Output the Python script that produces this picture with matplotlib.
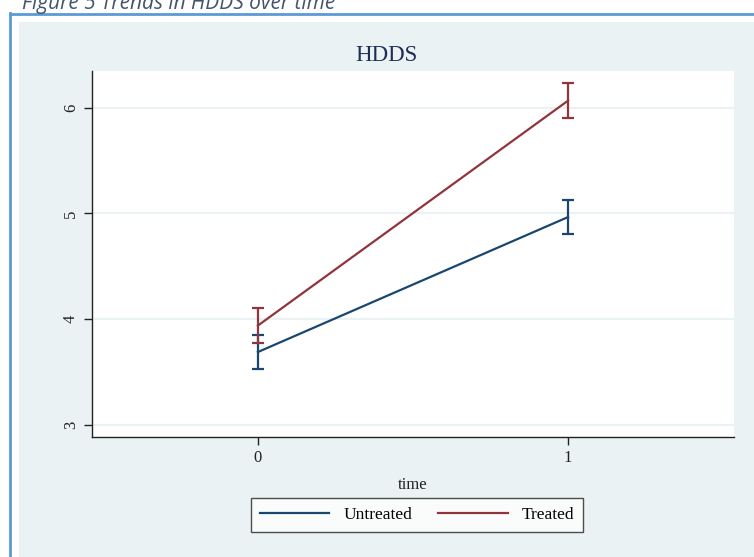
import numpy as np
import matplotlib.pyplot as plt
from matplotlib.patches import Rectangle
from matplotlib.lines import Line2D

# HDDS means with 95% CI, by time
time = [0, 1]
untreated = [3.69, 4.965]
untreated_lo = [3.525, 4.805]
untreated_hi = [3.85, 5.13]
treated = [3.94, 6.065]
treated_lo = [3.775, 5.905]
treated_hi = [4.105, 6.235]
yticks = [3, 4, 5, 6]
xticks = [0, 1]

W, H = 754, 557
fig = plt.figure(figsize=(W/100, H/100), dpi=100, facecolor='white')

# outer frame: Stata background + blue document border
fig.patches.append(Rectangle((19/W, 0), 1, 1 - 22/H, transform=fig.transFigure,
                             facecolor='#eaf2f3', edgecolor='none', zorder=-5))
fig.add_artist(Line2D([10/W, 10/W], [0, 1 - 13/H], transform=fig.transFigure,
                      color='#5b9bd5', lw=2))
fig.add_artist(Line2D([10/W, 1], [1 - 13.5/H, 1 - 13.5/H], transform=fig.transFigure,
                      color='#5b9bd5', lw=2))
fig.text(22/W, 1 - 9/H, 'Figure 5 Trends in HDDS over time', family='Open Sans',
         style='italic', fontsize=15, color='#44546a', va='baseline', ha='left')

ax = fig.add_axes([92/W, 1 - 437/H, (734-92)/W, (437-71)/H])
ax.set_facecolor('white')

navy = '#1a476f'
maroon = '#90353b'
ax.errorbar(time, untreated,
            yerr=[np.subtract(untreated, untreated_lo), np.subtract(untreated_hi, untreated)],
            color=navy, lw=1.6, capsize=4.5, capthick=1.6, label='Untreated', zorder=3)
ax.errorbar(time, treated,
            yerr=[np.subtract(treated, treated_lo), np.subtract(treated_hi, treated)],
            color=maroon, lw=1.6, capsize=4.5, capthick=1.6, label='Treated', zorder=3)

ax.set_xlim(-0.535, 1.535)
ax.set_ylim(2.887, 6.345)
ax.set_xticks(xticks)
ax.set_yticks(yticks)
ax.grid(axis='y', color='#eaf2f3', lw=1.5, zorder=0)
for s in ['top', 'right']:
    ax.spines[s].set_visible(False)
for s in ['left', 'bottom']:
    ax.spines[s].set_color('#222222')
    ax.spines[s].set_linewidth(1.0)
ax.tick_params(length=6, width=1, color='#222222', labelsize=12, labelcolor='#222222')
for lab in ax.get_yticklabels():
    lab.set_rotation(90)
    lab.set_va('center')
    lab.set_family('Liberation Serif')
for lab in ax.get_xticklabels():
    lab.set_family('Liberation Serif')
ax.set_xlabel('time', family='Liberation Serif', fontsize=12, color='#222222', labelpad=8)
ax.set_title('HDDS', family='Liberation Serif', fontsize=16.5, color='#1e2d55', pad=7,
             x=(386 - 92) / 642)

h, l = ax.get_legend_handles_labels()
leg = fig.legend([Line2D([], [], color=navy, lw=1.6), Line2D([], [], color=maroon, lw=1.6)], l,
                 loc='center', bbox_to_anchor=(417/W, 1 - 515/H), ncol=2, frameon=True,
                 fancybox=False, edgecolor='#222222', handlelength=4, handletextpad=0.8,
                 columnspacing=1.5, prop={'family': 'Liberation Serif', 'size': 12.5},
                 borderpad=0.5)
leg.get_frame().set_linewidth(1.0)

plt.savefig('out.png', dpi=100)
